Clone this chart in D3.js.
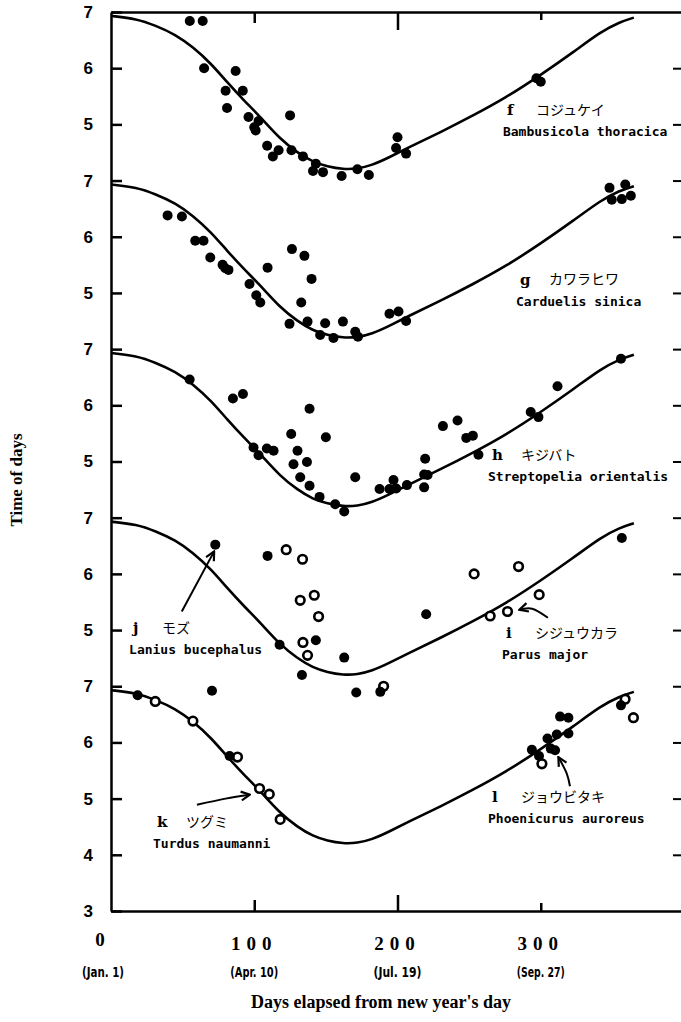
<!DOCTYPE html>
<html>
<head>
<meta charset="utf-8">
<script src="https://cdn.jsdelivr.net/npm/d3@7/dist/d3.min.js"></script>
<style>
body { margin: 0; background: #fff; }
</style>
</head>
<body>
<div id="chart"></div>
<script>
var width = 681, height = 1022

// fitted curve (same one drawn in every panel)
var curveDays = [0, 18, 31, 45, 57, 70, 81, 93, 104, 118, 130, 141, 151, 162, 172, 182, 194, 207, 230, 253, 276, 300, 323, 342, 355, 365]
var curveVals = [6.93, 6.88, 6.76, 6.6, 6.38, 6.08, 5.75, 5.42, 5.14, 4.74, 4.5, 4.33, 4.25, 4.2, 4.21, 4.27, 4.41, 4.58, 4.86, 5.16, 5.48, 5.88, 6.29, 6.65, 6.82, 6.9]

var yTickLabels = ['7', '6', '5', '7', '6', '5', '7', '6', '5', '7', '6', '5', '7', '6', '5', '4', '3']
var xTickDays = [0, 100, 200, 300]
var xTickLabels = ['0', '100', '200', '300']
var xDateLabels = ['(Jan. 1)', '(Apr. 10)', '(Jul. 19)', '(Sep. 27)']

// [day, value]
var fFilled = [[55,6.84],[64,6.84],[65,6.0],[87,5.95],[80,5.6],[92,5.6],[81,5.29],[96,5.13],[103,5.06],[100,4.95],[101,4.89],[125,5.16],[109,4.62],[113,4.43],[117,4.54],[126,4.54],[134,4.43],[143,4.3],[141,4.17],[148,4.15],[161,4.08],[172,4.2],[180,4.1],[200,4.77],[199,4.58],[206,4.48],[297,5.82],[300,5.76]]
var gFilled = [[39.5,6.38],[49.5,6.36],[58.8,5.93],[64.6,5.93],[69.3,5.63],[77.9,5.5],[79.8,5.44],[82,5.41],[109.3,5.45],[96.7,5.16],[101.4,4.96],[104.2,4.83],[126.3,5.78],[135,5.66],[140,5.25],[132.8,4.83],[124.6,4.45],[137.2,4.49],[149.5,4.46],[161.9,4.49],[146,4.25],[155.3,4.2],[170.5,4.31],[172.4,4.22],[194.4,4.63],[200.7,4.67],[206,4.5],[348,6.87],[359,6.93],[349.6,6.66],[356.6,6.67],[362.9,6.73]]
var hFilled = [[54.9,6.46],[85.1,6.12],[92.1,6.2],[138.6,5.94],[125.8,5.49],[150,5.43],[99.5,5.25],[103,5.11],[108.8,5.23],[113.5,5.19],[130.2,5.19],[127.4,4.95],[136.8,4.99],[132.1,4.72],[138.6,4.57],[170.5,4.72],[145.6,4.37],[156.5,4.24],[162.8,4.11],[187.5,4.51],[197.2,4.67],[194.4,4.51],[199.1,4.52],[206.6,4.58],[219.3,5.05],[218.6,4.77],[221,4.76],[218.6,4.54],[231.7,5.63],[241.9,5.73],[248,5.42],[252.6,5.46],[256.5,5.12],[293,5.88],[298.4,5.79],[311.7,6.34],[356,6.83]]
var jFilled = [[72.8,6.52],[109.3,6.32],[143,4.82],[117.7,4.74],[133.3,4.2],[162.8,4.51],[220,5.28],[356.6,6.64]]
var iOpen = [[122.3,6.43],[133.7,6.26],[132.1,5.53],[141.9,5.62],[144.9,5.24],[134,4.78],[137.2,4.55],[253.5,6.0],[284.5,6.13],[298.9,5.63],[264.7,5.25],[276.8,5.33]]
var kOpen = [[30.9,6.73],[57.2,6.38],[88.3,5.74],[103.7,5.18],[110.5,5.08],[118.1,4.63],[190.3,7.0],[300.8,5.62],[358.9,6.77],[364.7,6.44]]
var lFilled = [[18.6,6.84],[70.5,6.92],[82.8,5.76],[171.2,6.89],[188,6.9],[313.5,6.46],[319.3,6.44],[311.2,6.14],[319.3,6.16],[304.7,6.07],[293.8,5.87],[307,5.89],[310,5.86],[298.8,5.76],[356,6.66]]

var speciesLetters = ['f', 'g', 'h', 'i', 'j', 'k', 'l']
var speciesJp = ['コジュケイ', 'カワラヒワ', 'キジバト', 'シジュウカラ', 'モズ', 'ツグミ', 'ジョウビタキ']
var speciesLatin = ['Bambusicola thoracica', 'Carduelis sinica', 'Streptopelia orientalis', 'Parus major', 'Lanius bucephalus', 'Turdus naumanni', 'Phoenicurus auroreus']

var series = [
    {panel: 0, open: false, pts: fFilled},
    {panel: 1, open: false, pts: gFilled},
    {panel: 2, open: false, pts: hFilled},
    {panel: 3, open: false, pts: jFilled},
    {panel: 3, open: true, pts: iOpen},
    {panel: 4, open: true, pts: kOpen},
    {panel: 4, open: false, pts: lFilled}
]

// label anchors [panel, day, value]
var labelAt = [[0,276.4,5.26],[1,285.5,5.24],[2,266,5.12],[3,275.7,4.95],[3,15.4,5.04],[4,32.1,4.59],[4,266,5.03]]

// arrows [panel, [[day, value], ...]]
var arrows = [
    [3, [[49.4,5.33],[72,6.4]]],
    [3, [[305,5.22],[294,5.38],[285,5.36]]],
    [4, [[60,4.89],[80,5.0],[97,5.07]]],
    [4, [[320.4,5.22],[318.1,5.45],[312.3,5.74]]]
]

var svg = d3.select('#chart')
    .append('svg')
    .attr('width', width)
    .attr('height', height)
    .style('font-family', 'Liberation Serif')

var x = d3.scaleLinear().domain([0, 400]).range([111, 684])
var row = d3.scaleLinear().domain([0, 16]).range([12, 911])

function yPos(panel, v) {
    return row(3 * panel + 7 - v)
}

svg.append('defs').append('marker')
    .attr('id', 'arrow')
    .attr('viewBox', '0 0 10 10')
    .attr('refX', 9)
    .attr('refY', 5)
    .attr('markerUnits', 'userSpaceOnUse')
    .attr('markerWidth', 11)
    .attr('markerHeight', 11)
    .attr('orient', 'auto')
    .append('path')
    .attr('d', 'M1,1 L9,5 L1,9')
    .attr('fill', 'none')
    .attr('stroke', 'black')
    .attr('stroke-width', 2)

// left axis
var left = svg.append('g')
    .attr('transform', 'translate(111,0)')
    .call(d3.axisLeft(row)
        .tickValues(d3.range(0, 17))
        .tickSize(-11)
        .tickSizeOuter(0)
        .tickPadding(18)
        .tickFormat(function(d) { return yTickLabels[d] }))
left.selectAll('path, line').attr('stroke', 'black').attr('stroke-width', 2.5)
left.selectAll('text')
    .style('font-family', 'Liberation Sans')
    .style('font-weight', 'bold')
    .style('font-size', '17px')
    .attr('fill', 'black')

// right ticks
var right = svg.append('g')
    .attr('transform', 'translate(681,0)')
    .call(d3.axisLeft(row).tickValues(d3.range(1, 16)).tickSize(8).tickFormat(''))
right.select('.domain').remove()
right.selectAll('line').attr('stroke', 'black').attr('stroke-width', 2)

// top and bottom borders
var topTickLen = [11, 18, 8]
var bottomTickLen = [11, 16, 8]

var topAx = svg.append('g')
    .attr('transform', 'translate(0,12)')
    .call(d3.axisBottom(x).tickValues([100, 200, 300]).tickSizeOuter(0).tickFormat(''))
topAx.selectAll('.tick line').attr('y2', function(d, i) { return topTickLen[i] })
topAx.selectAll('path, line').attr('stroke', 'black').attr('stroke-width', 2.5)

var botAx = svg.append('g')
    .attr('transform', 'translate(0,911)')
    .call(d3.axisBottom(x).tickValues([100, 200, 300]).tickSizeOuter(0).tickFormat(''))
botAx.selectAll('.tick line').attr('y2', function(d, i) { return -bottomTickLen[i] })
botAx.selectAll('path, line').attr('stroke', 'black').attr('stroke-width', 2.5)

// x tick labels
svg.append('g').selectAll('text')
    .data(xTickDays)
    .enter()
    .append('text')
    .attr('x', function(d, i) { return x(d) + (i == 0 ? -8 : 0) })
    .attr('y', function(d, i) { return i == 0 ? 946 : 950 })
    .attr('text-anchor', 'middle')
    .style('font-size', '19px')
    .style('font-weight', 'bold')
    .style('letter-spacing', '6px')
    .text(function(d, i) { return xTickLabels[i] })

svg.append('g').selectAll('text')
    .data(xTickDays)
    .enter()
    .append('text')
    .attr('x', function(d, i) { return x(d) + (i == 0 ? -8 : 0) })
    .attr('y', 977)
    .attr('text-anchor', 'middle')
    .style('font-family', 'Liberation Sans Narrow, DejaVu Sans Condensed, Liberation Sans')
    .style('font-weight', 'bold')
    .style('font-size', '14px')
    .attr('textLength', function(d, i) { return i == 0 ? 42 : 48 })
    .attr('lengthAdjust', 'spacingAndGlyphs')
    .text(function(d, i) { return xDateLabels[i] })

svg.append('text')
    .attr('x', 381)
    .attr('y', 1008)
    .attr('text-anchor', 'middle')
    .style('font-size', '18px')
    .style('font-weight', 'bold')
    .text("Days elapsed from new year's day")

svg.append('text')
    .attr('transform', 'translate(22,480) rotate(-90)')
    .attr('text-anchor', 'middle')
    .style('font-size', '17px')
    .style('font-weight', 'bold')
    .text('Time of days')

// curves
var curvePts = curveDays.map(function(d, i) { return [d, curveVals[i]] })
d3.range(5).forEach(function(p) {
    var line = d3.line()
        .x(function(d) { return x(d[0]) })
        .y(function(d) { return yPos(p, d[1]) })
        .curve(d3.curveBasis)
    svg.append('path')
        .datum(curvePts)
        .attr('d', line)
        .attr('fill', 'none')
        .attr('stroke', 'black')
        .attr('stroke-width', 2.6)
})

// points
series.forEach(function(s) {
    svg.append('g')
        .selectAll('circle')
        .data(s.pts)
        .enter()
        .append('circle')
        .attr('cx', function(d) { return x(d[0]) })
        .attr('cy', function(d) { return yPos(s.panel, d[1]) })
        .attr('r', s.open ? 4.3 : 5)
        .attr('fill', s.open ? 'white' : 'black')
        .attr('stroke', 'black')
        .attr('stroke-width', s.open ? 2.6 : 0)
})

// arrows
arrows.forEach(function(a) {
    var line = d3.line()
        .x(function(d) { return x(d[0]) })
        .y(function(d) { return yPos(a[0], d[1]) })
        .curve(d3.curveNatural)
    svg.append('path')
        .datum(a[1])
        .attr('d', line)
        .attr('fill', 'none')
        .attr('stroke', 'black')
        .attr('stroke-width', 2)
        .attr('marker-end', 'url(#arrow)')
})

// species labels
var lab = svg.append('g').selectAll('g')
    .data(labelAt)
    .enter()
    .append('g')
    .attr('transform', function(d) { return 'translate(' + x(d[1]) + ',' + yPos(d[0], d[2]) + ')' })

lab.append('text')
    .attr('dy', '0.35em')
    .style('font-family', 'DejaVu Serif')
    .style('font-weight', 'bold')
    .style('font-size', '15px')
    .text(function(d, i) { return speciesLetters[i] })

lab.append('text')
    .attr('x', 29)
    .attr('dy', '0.35em')
    .style('font-family', 'Noto Sans CJK JP')
    .style('font-size', '14px')
    .text(function(d, i) { return speciesJp[i] })

lab.append('text')
    .attr('x', -4)
    .attr('y', 22)
    .attr('dy', '0.35em')
    .style('font-family', 'DejaVu Sans Mono')
    .style('font-weight', 'bold')
    .style('font-size', '13px')
    .text(function(d, i) { return speciesLatin[i] })
</script>
</body>
</html>
